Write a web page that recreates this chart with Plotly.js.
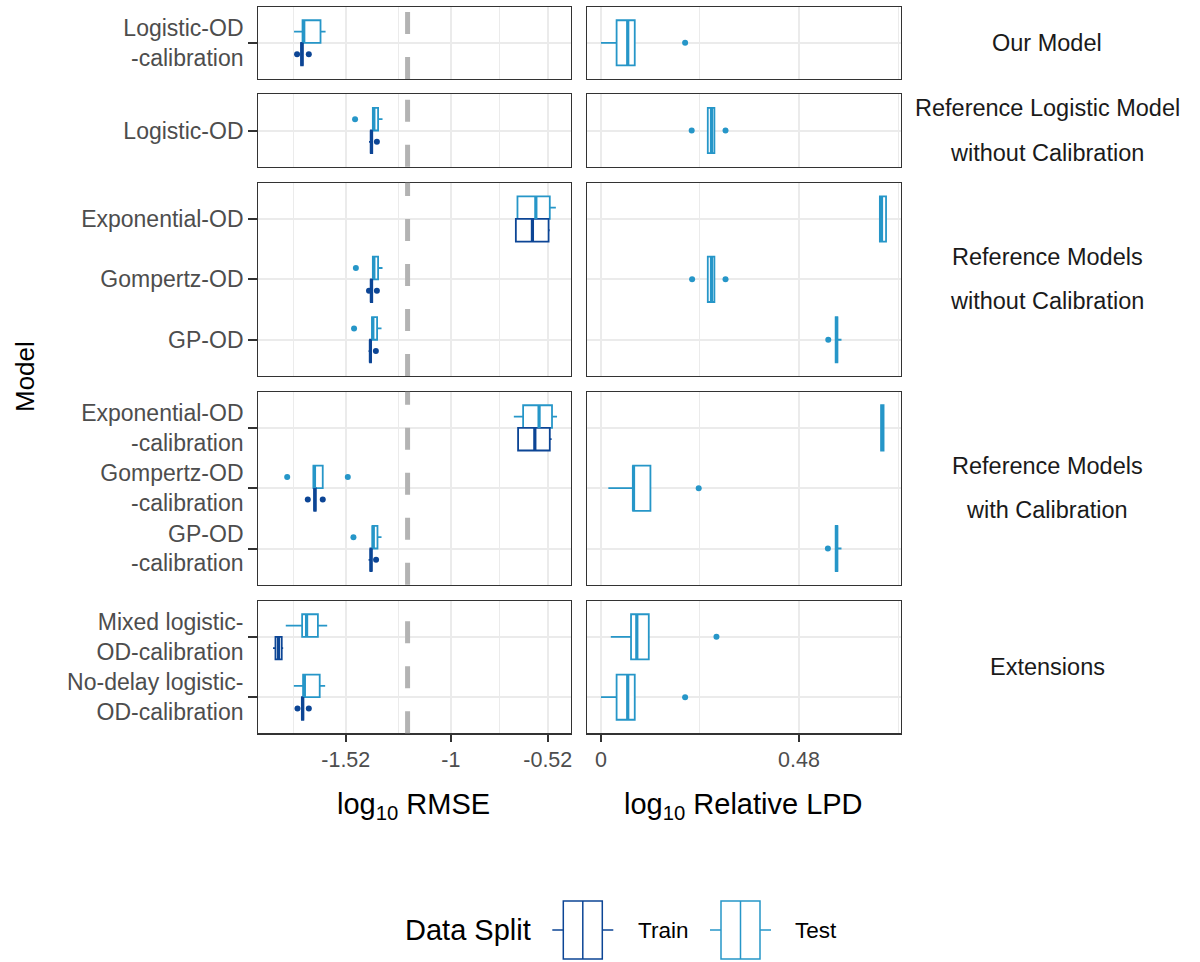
<!DOCTYPE html>
<html><head><meta charset="utf-8">
<script src="https://cdn.plot.ly/plotly-3.0.1.min.js"></script>
<style>html,body{margin:0;padding:0;background:#fff}#chart{width:1200px;height:962px}</style>
</head><body><div id="chart"></div>
<script>
// ---------------- data ----------------
const facetStrips = [
  ["Our Model"],
  ["Reference Logistic Model", "without Calibration"],
  ["Reference Models", "without Calibration"],
  ["Reference Models", "with Calibration"],
  ["Extensions"]
];
const facetModels = [
  ["Logistic-OD<br>-calibration"],
  ["Logistic-OD"],
  ["Exponential-OD", "Gompertz-OD", "GP-OD"],
  ["Exponential-OD<br>-calibration", "Gompertz-OD<br>-calibration", "GP-OD<br>-calibration"],
  ["Mixed logistic-<br>OD-calibration", "No-delay logistic-<br>OD-calibration"]
];
const splitNames = ["Train", "Test"];
const legendTitle = "Data Split";
const yTitle = "Model";
const rmseTitle = "log<sub>10</sub> RMSE";
const lpdTitle = "log<sub>10</sub> Relative LPD";

const rmseRange = [-1.953, -0.405];
const rmseTicks = [-1.52, -1, -0.52];
const rmseTickText = ["-1.52", "-1", "-0.52"];
const rmseMinor = [-1.78, -1.26, -0.76];
const rmseReference = -1.214;

const lpdRange = [-0.033, 0.7265];
const lpdTicks = [0, 0.48];
const lpdTickText = ["0", "0.48"];
const lpdMinor = [0.24, 0.72];

// five-number summaries [lowerfence, q1, median, q3, upperfence], models in facet order
const rmseTrain = [
  [-1.742, -1.741, -1.737, -1.733, -1.733],
  [-1.405, -1.396, -1.393, -1.389, -1.389],
  [-0.681, -0.678, -0.596, -0.516, -0.510],
  [-1.400, -1.396, -1.393, -1.389, -1.389],
  [-1.407, -1.400, -1.398, -1.395, -1.395],
  [-0.667, -0.667, -0.584, -0.510, -0.501],
  [-1.676, -1.676, -1.673, -1.669, -1.669],
  [-1.407, -1.398, -1.395, -1.392, -1.392],
  [-1.880, -1.868, -1.853, -1.837, -1.830],
  [-1.738, -1.737, -1.734, -1.730, -1.730]
];
const rmseTrainOut = [
  [-1.761, -1.703], [-1.366], [], [-1.405, -1.366], [-1.371],
  [], [-1.708, -1.634], [-1.370], [], [-1.759, -1.703]
];
const rmseTest = [
  [-1.776, -1.734, -1.728, -1.645, -1.620],
  [-1.386, -1.386, -1.381, -1.360, -1.338],
  [-0.670, -0.670, -0.579, -0.510, -0.480],
  [-1.386, -1.386, -1.381, -1.360, -1.338],
  [-1.390, -1.390, -1.386, -1.365, -1.343],
  [-0.688, -0.642, -0.563, -0.499, -0.474],
  [-1.680, -1.680, -1.675, -1.634, -1.634],
  [-1.388, -1.388, -1.384, -1.363, -1.343],
  [-1.817, -1.736, -1.714, -1.658, -1.612],
  [-1.777, -1.731, -1.725, -1.649, -1.622]
];
const rmseTestOut = [
  [], [-1.474], [], [-1.470], [-1.479],
  [], [-1.810, -1.510], [-1.482], [], []
];
const lpdTest = [
  [0.000, 0.038, 0.065, 0.082, 0.082],
  [0.259, 0.259, 0.268, 0.275, 0.275],
  [0.676, 0.676, 0.680, 0.691, 0.691],
  [0.259, 0.259, 0.268, 0.275, 0.275],
  [0.569, 0.569, 0.571, 0.573, 0.583],
  [0.679, 0.679, 0.682, 0.685, 0.685],
  [0.018, 0.078, 0.079, 0.120, 0.120],
  [0.569, 0.569, 0.571, 0.573, 0.583],
  [0.024, 0.073, 0.087, 0.116, 0.116],
  [0.000, 0.038, 0.065, 0.082, 0.082]
];
const lpdTestOut = [
  [0.204], [0.220, 0.302], [], [0.221, 0.302], [0.551],
  [], [0.237], [0.550], [0.280], [0.204]
];

// ---------------- styling / layout ----------------
const W = 1200, H = 962;
const px = x => x / W, py = y => 1 - y / H;
const FONT = "Liberation Sans, Arial, Helvetica, sans-serif";
const colTrain = "#0c4595", colTest = "#2696c8";
const colDom = [[258.3, 571], [587.3, 900.7]];
const rowDom = [[6.7, 79], [94.3, 166.7], [182.7, 376], [391.7, 584.7], [600.7, 733.3]];

const traces = [];
const shapes = [];
const annotations = [];
const layout = {
  width: W, height: H,
  margin: {l: 0, r: 0, t: 0, b: 0},
  paper_bgcolor: "#fff", plot_bgcolor: "#fff",
  font: {family: FONT, color: "#000"},
  showlegend: false,
  boxmode: "overlay"
};

function addBoxes(xa, ya, pos, stats, outs, color, width) {
  traces.push({
    type: "box", orientation: "h", xaxis: xa, yaxis: ya,
    y: pos,
    lowerfence: stats.map(s => s[0]),
    q1: stats.map(s => s[1]),
    median: stats.map(s => s[2]),
    q3: stats.map(s => s[3]),
    upperfence: stats.map(s => s[4]),
    width: width, whiskerwidth: 0,
    line: {color: color, width: 1.8},
    fillcolor: "#ffffff",
    boxpoints: false, showlegend: false, hoverinfo: "x"
  });
  const mx = [], my = [];
  stats.forEach((s, i) => { mx.push(s[2], s[2], null); my.push(pos[i] - width / 2, pos[i] + width / 2, null); });
  traces.push({type: "scatter", mode: "lines", xaxis: xa, yaxis: ya, x: mx, y: my,
    line: {color: color, width: 3.2}, showlegend: false, hoverinfo: "skip"});
  const ox = [], oy = [];
  outs.forEach((o, i) => o.forEach(v => { ox.push(v); oy.push(pos[i]); }));
  traces.push({type: "scatter", mode: "markers", xaxis: xa, yaxis: ya, x: ox, y: oy,
    marker: {color: color, size: 6}, showlegend: false, hoverinfo: "x"});
}

let start = 0;
facetModels.forEach((models, r) => {
  const n = models.length;
  const idx = models.map((_, i) => i);
  const sl = a => a.slice(start, start + n);
  for (let c = 0; c < 2; c++) {
    const k = r * 2 + c + 1;
    const s = k === 1 ? "" : String(k);
    const xa = "x" + s, ya = "y" + s;
    const bottom = r === facetModels.length - 1;
    layout["xaxis" + s] = {
      domain: [px(colDom[c][0]), px(colDom[c][1])], anchor: ya,
      range: c ? lpdRange : rmseRange,
      tickmode: "array", tickvals: c ? lpdTicks : rmseTicks, ticktext: c ? lpdTickText : rmseTickText,
      showticklabels: bottom, ticks: bottom ? "outside" : "", ticklen: 7, tickwidth: 2, tickcolor: "#333333",
      tickfont: {family: FONT, size: 21.5, color: "#4d4d4d"},
      showgrid: true, gridcolor: "#ebebeb", gridwidth: 2,
      minor: {tickmode: "array", tickvals: c ? lpdMinor : rmseMinor, showgrid: true, gridcolor: "#ebebeb", gridwidth: 1, ticks: ""},
      zeroline: false, showline: true, mirror: true, linecolor: "#333333", linewidth: 1.2,
      fixedrange: true
    };
    layout["yaxis" + s] = {
      domain: [py(rowDom[r][1]), py(rowDom[r][0])], anchor: xa,
      range: [n - 1 + 0.6, -0.6],
      tickmode: "array", tickvals: idx, ticktext: models,
      showticklabels: c === 0, ticks: c === 0 ? "outside" : "", ticklen: 9, tickwidth: 2, tickcolor: "#333333",
      tickfont: {family: FONT, size: 23, color: "#4d4d4d"},
      showgrid: true, gridcolor: "#ebebeb", gridwidth: 2,
      zeroline: false, showline: true, mirror: true, linecolor: "#333333", linewidth: 1.2,
      fixedrange: true
    };
    if (c === 0) {
      addBoxes(xa, ya, idx.map(i => i - 0.1875), sl(rmseTest), sl(rmseTestOut), colTest, 0.375);
      addBoxes(xa, ya, idx.map(i => i + 0.1875), sl(rmseTrain), sl(rmseTrainOut), colTrain, 0.375);
      shapes.push({type: "line", layer: "above", xref: xa, yref: ya + " domain",
        x0: rmseReference, x1: rmseReference, y0: 0, y1: 1,
        line: {color: "#b3b3b3", width: 5, dash: "22px,23px"}});
    } else {
      addBoxes(xa, ya, idx, sl(lpdTest), sl(lpdTestOut), colTest, 0.75);
    }
  }
  // strip labels
  const lines = facetStrips[r];
  const cy = (rowDom[r][0] + rowDom[r][1]) / 2;
  lines.forEach((t, j) => {
    const off = (j - (lines.length - 1) / 2) * 44;
    annotations.push({text: t, xref: "paper", yref: "paper", x: px(1047), y: py(cy + off),
      xanchor: "center", yanchor: "middle", showarrow: false,
      font: {family: FONT, size: 23.5, color: "#1a1a1a"}});
  });
  start += n;
});

// axis titles
annotations.push({text: rmseTitle, xref: "paper", yref: "paper", x: px(414), y: py(806),
  xanchor: "center", yanchor: "middle", showarrow: false, font: {family: FONT, size: 29, color: "#000"}});
annotations.push({text: lpdTitle, xref: "paper", yref: "paper", x: px(743), y: py(806),
  xanchor: "center", yanchor: "middle", showarrow: false, font: {family: FONT, size: 29, color: "#000"}});
annotations.push({text: yTitle, xref: "paper", yref: "paper", x: px(25), y: py(377),
  xanchor: "center", yanchor: "middle", textangle: -90, showarrow: false, font: {family: FONT, size: 26, color: "#000"}});

// custom legend
annotations.push({text: legendTitle, xref: "paper", yref: "paper", x: px(403), y: py(930),
  xanchor: "left", yanchor: "middle", showarrow: false, font: {family: FONT, size: 29, color: "#000"}});
const legendItems = [
  {name: splitNames[0], color: colTrain, x: 552.3, tx: 635.5},
  {name: splitNames[1], color: colTest, x: 710, tx: 793}
];
legendItems.forEach(it => {
  const x0 = it.x, b0 = x0 + 11, b1 = b0 + 39, x1 = b1 + 11, mid = (b0 + b1) / 2;
  const ln = {color: it.color, width: 1.5};
  shapes.push({type: "rect", xref: "paper", yref: "paper", x0: px(b0), x1: px(b1), y0: py(959), y1: py(901), line: ln, fillcolor: "#fff"});
  shapes.push({type: "line", xref: "paper", yref: "paper", x0: px(mid), x1: px(mid), y0: py(959), y1: py(901), line: ln});
  shapes.push({type: "line", xref: "paper", yref: "paper", x0: px(x0), x1: px(b0), y0: py(930), y1: py(930), line: ln});
  shapes.push({type: "line", xref: "paper", yref: "paper", x0: px(b1), x1: px(x1), y0: py(930), y1: py(930), line: ln});
  annotations.push({text: it.name, xref: "paper", yref: "paper", x: px(it.tx), y: py(930),
    xanchor: "left", yanchor: "middle", showarrow: false, font: {family: FONT, size: 22.5, color: "#000"}});
});

layout.shapes = shapes;
layout.annotations = annotations;
Plotly.newPlot("chart", traces, layout, {displayModeBar: false, staticPlot: true});
</script>
</body></html>
